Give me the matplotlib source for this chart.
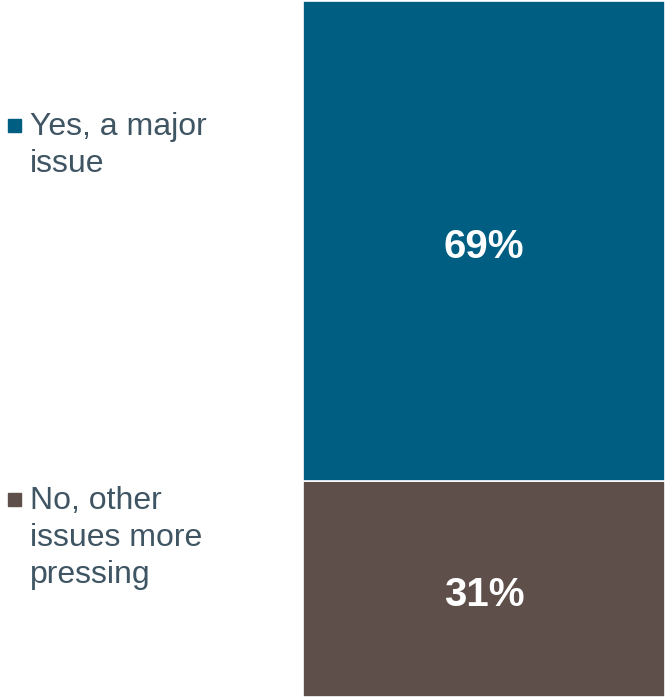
import matplotlib.pyplot as plt
from matplotlib.patches import Rectangle

# survey answers, bottom segment first
answers = ["No, other\nissues more\npressing", "Yes, a major\nissue"]
shares = [31, 69]
colors = ["#5E4F4A", "#005E82"]

plt.rcParams['font.family'] = ['Liberation Sans', 'DejaVu Sans']

W, H = 666, 699
fig = plt.figure(figsize=(W / 100, H / 100), dpi=100)

# single stacked column on the right
ax = fig.add_axes([303 / W, 2 / H, 362 / W, 696 / H])
bottom = 0
for share, color in zip(shares, colors):
    ax.bar(0, share, bottom=bottom, width=1.0, color=color,
           edgecolor="white", linewidth=1.2)
    ax.annotate(f"{share}%", (0, bottom + share / 2), xytext=(0, -4.3),
                textcoords="offset points", ha="center", va="center",
                color="white", fontsize=29, fontweight="bold")
    bottom += share
ax.set_xlim(-0.5, 0.5)
ax.set_ylim(0, 100)
ax.axis("off")

# hand-placed legend on the left, top item first
text_color = "#3F5563"
legend_tops = [493, 119]   # pixel rows of the marker squares
for label, color, top in zip(answers, colors, legend_tops):
    fig.add_artist(Rectangle((8 / W, 1 - (top + 13) / H), 13 / W, 13 / H,
                             transform=fig.transFigure, color=color))
    base = top + 16
    for line in label.split("\n"):
        fig.text(30 / W, 1 - base / H, line, fontsize=23, color=text_color,
                 ha="left", va="baseline")
        base += 37

fig.savefig("out.png", dpi=100)
